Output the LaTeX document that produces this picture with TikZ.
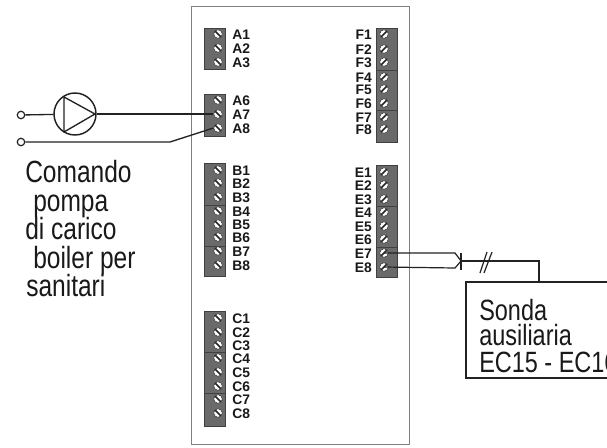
\documentclass[tikz,border=0pt]{standalone}
\usepackage{fontspec}
\setmainfont{Liberation Sans}
\newfontfamily\condfont[FakeStretch=0.8]{Liberation Sans}
\definecolor{blockgray}{HTML}{6A6A6A}
\definecolor{framegray}{HTML}{808080}
\definecolor{wire}{HTML}{222222}
\tikzset{
  x=0.75pt,y=-0.75pt,
  block/.style={fill=blockgray,draw=black!75,line width=0.5pt},
  divider/.style={draw=black!75,line width=0.5pt},
  screwbase/.style={circle,fill=white,draw=black!80,line width=0.4pt,minimum size=6.4pt,inner sep=0pt},
  screwback/.style={screwbase,path picture={\draw[black!85,line width=1.3pt] (path picture bounding box.north west) -- (path picture bounding box.south east);}},
  screwfwd/.style={screwbase,path picture={\draw[black!85,line width=1.3pt] (path picture bounding box.south west) -- (path picture bounding box.north east);}},
  pinlabel/.style={font=\bfseries\fontsize{10.4}{11}\selectfont,inner sep=0pt,text=black!90},
  leftlabel/.style={pinlabel,anchor=west},
  rightlabel/.style={pinlabel,anchor=east},
  wireline/.style={draw=wire,line width=1pt},
  thinwire/.style={draw=wire,line width=0.9pt},
  bigtext/.style={font=\condfont\fontsize{23}{24}\selectfont,inner sep=0pt,anchor=base west,text=black!90},
  terminal/.style={circle,draw=wire,line width=0.9pt,fill=white,minimum size=5.6pt,inner sep=0pt},
  pump/.style={circle,draw=wire,line width=1.1pt,fill=white,minimum size=31.5pt,inner sep=0pt},
}
\begin{document}
\begin{tikzpicture}
\useasboundingbox (0,0) rectangle (607,447);
\fill[white] (0,0) rectangle (607,447);
\node[draw=framegray,line width=0.8pt,minimum width=163.5pt,minimum height=328.5pt,inner sep=0pt] (board) at (300.5,225.5) {};
% terminal blocks
\draw[block] (204,28) rectangle (225,69);
\draw[block] (204,94) rectangle (225,136);
\draw[block] (204,163) rectangle (225,276);
\draw[divider] (204,205) -- (225,205) (204,246) -- (225,246);
\draw[block] (204,311) rectangle (225,426);
\draw[divider] (204,352) -- (225,352) (204,393) -- (225,393);
\draw[block] (376,28) rectangle (397,142);
\draw[divider] (376,70) -- (397,70) (376,110) -- (397,110);
\draw[block] (376,165) rectangle (397,277);
\draw[divider] (376,206) -- (397,206) (376,247) -- (397,247);
% screws and labels
\foreach \n/\y in {A1/34,A2/48,A3/62,A6/100,A7/114,A8/128,
  B1/170,B2/183,B3/197,B4/211,B5/224,B6/237,B7/251,B8/265,
  C1/318,C2/332,C3/345,C4/358,C5/372,C6/386,C7/399,C8/413}{
  \node[screwback] (\n) at (218,\y) {};
  \node[leftlabel] (l\n) at (232,\y+1) {\n};
}
\foreach \n/\y in {F1/34,F2/49,F3/62,F4/77,F5/89,F6/103,F7/117,F8/129,
  E1/172,E2/185,E3/199,E4/212,E5/226,E6/239,E7/253,E8/267}{
  \node[screwfwd] (\n) at (384,\y) {};
  \node[rightlabel] (l\n) at (372,\y+1) {\n};
}
% pump circuit
\node[terminal] (t1) at (21,115) {};
\node[terminal] (t2) at (21,142) {};
\node[pump] (pmp) at (75,114) {};
\draw[wireline,line join=round] (64,97) -- (95,114) -- (64,132) -- cycle;
\draw[wireline] (t1) -- (pmp);
\draw[wireline] (pmp) -- (A7.west);
\draw[wireline] (t2) -- (170,142) -- (A8.west);
% sensor
\coordinate (join) at (461,261);
\coordinate (bar1) at (461,253);
\coordinate (bar2) at (461,270);
\coordinate (sondatop) at (539,282);
\coordinate (slash1a) at (480,273);
\coordinate (slash1b) at (487,252);
\coordinate (slash2a) at (484,273);
\coordinate (slash2b) at (492,252);
\draw[thinwire] (E7.center) -- (455,253) -- (join);
\draw[thinwire] (E8.center) -- (455,268) -- (join);
\draw[thinwire] (bar1) -- (bar2);
\draw[thinwire] (join) -- (539,261) -- (sondatop);
\draw[thinwire] (slash1a) -- (slash1b);
\draw[thinwire] (slash2a) -- (slash2b);
\draw[thinwire] (608,282) -- (466,282) -- (466,378) -- (608,378);
% texts
\node[bigtext] (t-a) at (25,182) {Comando};
\node[bigtext] (t-b) at (33,211) {pompa};
\node[bigtext] (t-c) at (25,239) {di carico};
\node[bigtext] (t-d) at (33,268) {boiler per};
\node[bigtext] (t-e) at (26,296) {sanitari};
\node[bigtext,font=\condfont\fontsize{22}{23}\selectfont] (s-a) at (479,320) {Sonda};
\node[bigtext,font=\condfont\fontsize{22}{23}\selectfont] (s-b) at (479,345) {ausiliaria};
\node[bigtext,font=\condfont\fontsize{22}{23}\selectfont] (s-c) at (479,372) {EC15 - EC16};
\end{tikzpicture}
\end{document}
